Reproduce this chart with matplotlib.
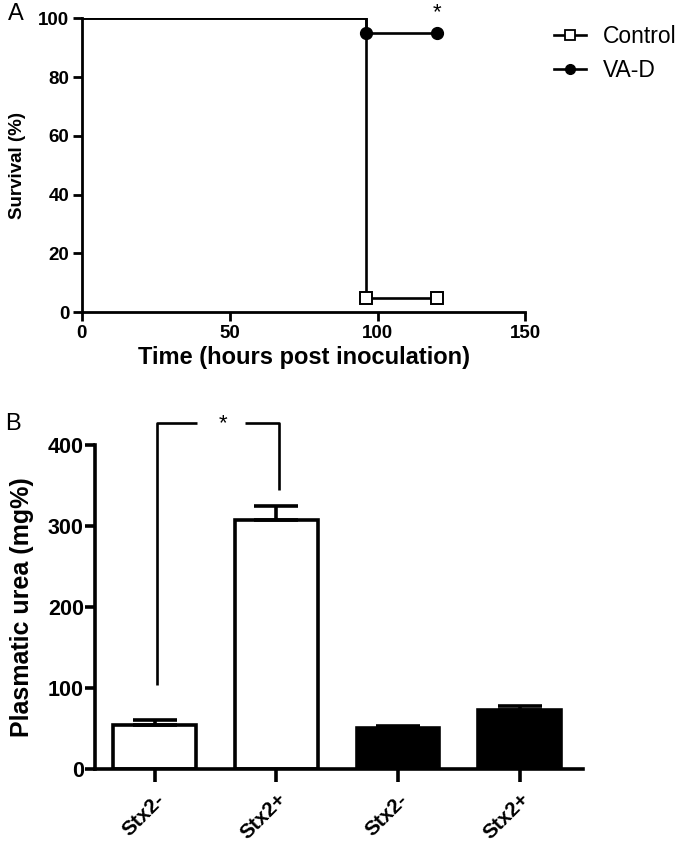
import matplotlib
matplotlib.use("Agg")
import matplotlib.pyplot as plt
from matplotlib.lines import Line2D

plt.rcParams['font.family'] = ['Liberation Sans', 'DejaVu Sans']

# Panel A data (survival)
time_control = [0, 96, 120]
surv_control = [100, 5, 5]
time_vad = [0, 96, 120]
surv_vad = [100, 95, 95]
a_xticks = [0, 50, 100, 150]
a_yticks = [0, 20, 40, 60, 80, 100]

# Panel B data (plasmatic urea)
b_categories = ["Stx2-", "Stx2+", "Stx2-", "Stx2+"]
b_values = [54, 307, 50, 73]
b_errors = [7, 17, 3, 5]
b_colors = ["white", "white", "black", "black"]
b_yticks = [0, 100, 200, 300, 400]

fig = plt.figure(figsize=(6.8, 8.47), dpi=100)

# ---------- Panel A ----------
axA = fig.add_axes([0.1201, 0.6313, 0.6526, 0.3471])
lw = 1.9
axA.plot(time_control, surv_control, drawstyle='steps-post', color='black', lw=lw)
axA.plot(time_vad, surv_vad, drawstyle='steps-post', color='black', lw=lw)
axA.plot(time_control[1:], surv_control[1:], ls='none', marker='s', ms=8.5,
         mfc='white', mec='black', mew=1.4, clip_on=False, zorder=3)
axA.plot(time_vad[1:], surv_vad[1:], ls='none', marker='o', ms=8.5,
         mfc='black', mec='black', clip_on=False, zorder=3)
axA.set_xlim(0, 150)
axA.set_ylim(0, 100)
axA.set_xticks(a_xticks)
axA.set_yticks(a_yticks)
for s in ['top', 'right']:
    axA.spines[s].set_visible(False)
for s in ['left', 'bottom']:
    axA.spines[s].set_linewidth(2.0)
axA.tick_params(direction='out', length=6.5, width=2.0, labelsize=13.5, pad=2.5)
for lab in axA.get_xticklabels() + axA.get_yticklabels():
    lab.set_fontweight('bold')
axA.set_xlabel("Time (hours post inoculation)", fontsize=17, fontweight='bold', labelpad=3)
axA.set_ylabel("Survival (%)", fontsize=13.5, fontweight='bold', labelpad=8.5)
axA.text(time_vad[-1], 100, "*", ha='center', va='baseline', fontsize=16, clip_on=False)
fig.text(0.012, 0.984, "A", fontsize=17, ha='left', va='center')

handles = [Line2D([], [], color='black', lw=lw, marker='s', ms=7, mfc='white', mec='black', mew=1.3),
           Line2D([], [], color='black', lw=lw, marker='o', ms=7, mfc='black', mec='black')]
fig.legend(handles, ["Control", "VA-D"], loc='upper left', bbox_to_anchor=(0.8147, 0.971),
           frameon=False, fontsize=16.5, handlelength=1.4, handletextpad=0.75, labelspacing=0.5,
           borderaxespad=0, borderpad=0)

# ---------- Panel B ----------
axB = fig.add_axes([0.1397, 0.0921, 0.7176, 0.3831])
x = list(range(len(b_categories)))
axB.bar(x, b_values, width=0.68, color=b_colors, edgecolor='black', linewidth=2.6, zorder=2)
axB.errorbar(x, b_values, yerr=[[0] * len(b_errors), b_errors], fmt='none', ecolor='black',
             elinewidth=2.6, capsize=15.5, capthick=2.6, zorder=3)
axB.set_xlim(-0.49, 3.52)
axB.set_ylim(0, 400)
axB.set_yticks(b_yticks)
axB.set_xticks(x)
axB.set_xticklabels(b_categories, rotation=45, ha='right', rotation_mode='anchor',
                    fontsize=15, fontweight='bold')
for s in ['top', 'right']:
    axB.spines[s].set_visible(False)
for s in ['left', 'bottom']:
    axB.spines[s].set_linewidth(2.6)
axB.tick_params(axis='y', direction='out', length=7, width=2.6, labelsize=15.5, pad=1)
axB.tick_params(axis='x', direction='out', length=9, width=2.6, pad=6)
for lab in axB.get_yticklabels():
    lab.set_fontweight('bold')
axB.set_ylabel("Plasmatic urea (mg%)", fontsize=18, fontweight='bold', labelpad=10)

# significance bracket between bar 1 and bar 2
bx1, bx2 = x[0] + 0.02, x[1] + 0.02
top = 427
axB.plot([bx1, bx1, bx1 + 0.33], [103, top, top], color='black', lw=1.9, clip_on=False,
         solid_capstyle='butt')
axB.plot([bx2 - 0.28, bx2, bx2], [top, top, 344], color='black', lw=1.9, clip_on=False,
         solid_capstyle='butt')
axB.text((bx1 + bx2) / 2 + 0.04, top - 1, "*", ha='center', va='center', fontsize=16,
         clip_on=False)
fig.text(0.008, 0.5, "B", fontsize=17, ha='left', va='center')

fig.savefig("out.png", dpi=100)
